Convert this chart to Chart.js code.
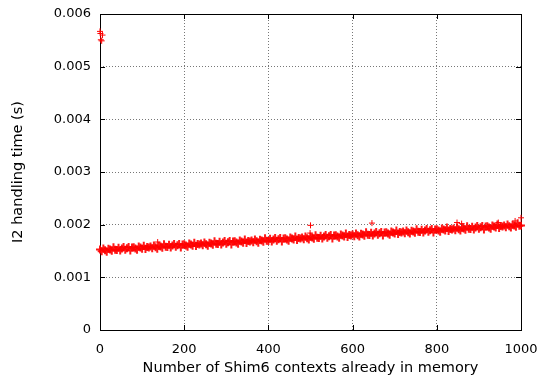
<!DOCTYPE html>
<html>
<head>
<meta charset="utf-8">
<script src="https://cdn.jsdelivr.net/npm/chart.js@4"></script>
<style>
  html, body { margin: 0; padding: 0; background: #fff; }
  #wrap { width: 539px; height: 378px; }
</style>
</head>
<body>
<div id="wrap"><canvas id="c"></canvas></div>
<script>
// contexts in memory go 0..1000, one sample every 4 contexts
const xStep = 4;
// handling time in microseconds
const bandTimesUs = [
  1527, 1497, 1549, 1516, 1488, 1543, 1528, 1503, 1570, 1522,
  1519, 1561, 1508, 1548, 1577, 1522, 1550, 1575, 1511, 1565,
  1573, 1547, 1525, 1585, 1565, 1545, 1602, 1539, 1578, 1567,
  1584, 1554, 1606, 1573, 1545, 1600, 1585, 1560, 1627, 1579,
  1576, 1618, 1565, 1605, 1634, 1579, 1607, 1632, 1568, 1622,
  1630, 1604, 1582, 1642, 1622, 1602, 1659, 1596, 1635, 1624,
  1641, 1611, 1663, 1630, 1602, 1657, 1642, 1617, 1684, 1636,
  1633, 1675, 1622, 1662, 1691, 1636, 1664, 1689, 1625, 1679,
  1687, 1661, 1639, 1699, 1679, 1659, 1716, 1653, 1692, 1681,
  1698, 1668, 1720, 1687, 1659, 1714, 1699, 1674, 1741, 1693,
  1690, 1732, 1679, 1719, 1748, 1693, 1721, 1746, 1682, 1736,
  1744, 1718, 1696, 1756, 1736, 1716, 1773, 1710, 1749, 1738,
  1755, 1725, 1777, 1744, 1716, 1771, 1756, 1731, 1798, 1750,
  1747, 1789, 1736, 1776, 1805, 1750, 1778, 1803, 1739, 1793,
  1801, 1775, 1753, 1813, 1793, 1773, 1830, 1767, 1806, 1795,
  1812, 1782, 1834, 1801, 1773, 1828, 1813, 1788, 1855, 1807,
  1804, 1846, 1793, 1833, 1862, 1807, 1835, 1860, 1796, 1850,
  1858, 1832, 1810, 1870, 1850, 1830, 1887, 1824, 1863, 1852,
  1869, 1839, 1891, 1858, 1830, 1885, 1870, 1845, 1912, 1864,
  1861, 1903, 1850, 1890, 1919, 1864, 1892, 1917, 1853, 1907,
  1915, 1889, 1867, 1927, 1907, 1887, 1944, 1881, 1920, 1909,
  1926, 1896, 1948, 1915, 1887, 1942, 1927, 1902, 1969, 1921,
  1918, 1960, 1907, 1947, 1976, 1921, 1949, 1974, 1910, 1964,
  1972, 1946, 1924, 1984, 1964, 1944, 2001, 1938, 1977, 1966,
  1983, 1953, 2005, 1972, 1944, 1999, 1984, 1959, 2026, 1978,
  1985
];
// stray samples
const outlierContexts = [0, 1, 6, 4, 2, 137, 499, 500, 646, 848, 859, 946, 986, 1000];
const outlierTimesUs = [5670, 5630, 5600, 5490, 5510, 1670, 1840, 1987, 2030, 2040, 2020, 2040, 2070, 2130];

const xTicks = [0, 200, 400, 600, 800, 1000];
const yTicks = [0, 0.001, 0.002, 0.003, 0.004, 0.005, 0.006];
const yTickLabels = ['0', '0.001', '0.002', '0.003', '0.004', '0.005', '0.006'];

const band = bandTimesUs.map((v, i) => ({x: i * xStep, y: v / 1e6}));
const outliers = outlierContexts.map((c, i) => ({x: c, y: outlierTimesUs[i] / 1e6}));

// gnuplot style frame with inward ticks on all four sides
const frame = {
  id: 'frame',
  beforeDatasetsDraw(chart) {
    const {ctx, chartArea: a, scales} = chart;
    ctx.save();
    ctx.strokeStyle = '#000';
    ctx.lineWidth = 1;
    ctx.beginPath();
    const t = 5;
    xTicks.forEach(v => {
      const px = Math.round(scales.x.getPixelForValue(v)) + 0.5;
      ctx.moveTo(px, a.bottom); ctx.lineTo(px, a.bottom - t);
      ctx.moveTo(px, a.top); ctx.lineTo(px, a.top + t);
    });
    yTicks.forEach(v => {
      const py = Math.round(scales.y.getPixelForValue(v)) + 0.5;
      ctx.moveTo(a.left, py); ctx.lineTo(a.left + t, py);
      ctx.moveTo(a.right, py); ctx.lineTo(a.right - t, py);
    });
    ctx.stroke();
    ctx.strokeRect(Math.round(a.left) + 0.5, Math.round(a.top) + 0.5,
      Math.round(a.right - a.left), Math.round(a.bottom - a.top));
    ctx.restore();
  }
};

const font = {family: 'DejaVu Sans', size: 13};
const titleFont = {family: 'DejaVu Sans', size: 14.5};

new Chart(document.getElementById('c'), {
  type: 'scatter',
  data: {
    datasets: [{
      data: band,
      pointStyle: 'cross',
      radius: 4,
      borderWidth: 2,
      borderColor: 'rgba(255,0,0,0.9)',
      backgroundColor: 'red',
      clip: false
    }, {
      data: outliers,
      pointStyle: 'cross',
      radius: 3,
      borderWidth: 1,
      borderColor: 'red',
      backgroundColor: 'red',
      clip: false
    }]
  },
  options: {
    responsive: true,
    maintainAspectRatio: false,
    animation: false,
    layout: {padding: {top: 14, right: 18, left: 0, bottom: 0}},
    plugins: {legend: {display: false}, tooltip: {enabled: false}},
    scales: {
      x: {
        type: 'linear',
        min: 0, max: 1000,
        afterBuildTicks: s => { s.ticks = xTicks.map(v => ({value: v})); },
        afterFit: s => { s.height = 48; s.paddingLeft = 0; s.paddingRight = 0; },
        ticks: {color: '#000', font, padding: 12, maxRotation: 0,
                callback: v => String(v)},
        grid: {color: '#777', lineWidth: 1, drawTicks: false},
        border: {display: false, dash: [1, 2]},
        title: {display: true, text: 'Number of Shim6 contexts already in memory',
                color: '#000', font: titleFont, padding: {top: 4, bottom: 1}}
      },
      y: {
        type: 'linear',
        min: 0, max: 0.006,
        afterBuildTicks: s => { s.ticks = yTicks.map(v => ({value: v})); },
        afterFit: s => { s.width = 100; s.paddingTop = 0; s.paddingBottom = 0; },
        ticks: {color: '#000', font, padding: 9,
                callback: (v) => yTickLabels[yTicks.findIndex(t => Math.abs(t - v) < 1e-9)]},
        grid: {color: '#777', lineWidth: 1, drawTicks: false},
        border: {display: false, dash: [1, 2]},
        title: {display: true, text: 'I2 handling time (s)', color: '#000', font: titleFont,
                padding: {top: 10, bottom: 0}}
      }
    }
  },
  plugins: [frame]
});
</script>
</body>
</html>
